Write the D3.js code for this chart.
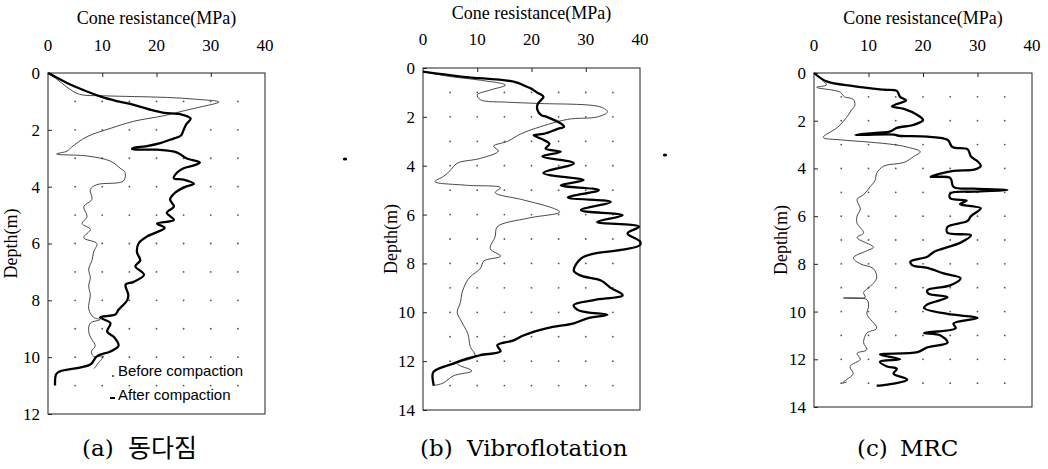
<!DOCTYPE html>
<html>
<head>
<meta charset="utf-8">
<script src="https://cdn.jsdelivr.net/npm/d3@7"></script>
<style>
  body { margin: 0; background: #fff; }
  svg { display: block; }
</style>
</head>
<body>
<svg id="chart" width="1048" height="469"></svg>
<script>
// cone resistance (MPa) vs depth (m)
// each point is [qc, depth]

const xTicks = [0, 10, 20, 30, 40]

const aDepthTicks = [0, 2, 4, 6, 8, 10, 12]
const bDepthTicks = [0, 2, 4, 6, 8, 10, 12, 14]
const cDepthTicks = [0, 2, 4, 6, 8, 10, 12, 14]

const legendLabels = ['Before compaction', 'After compaction']
const captions = ['동다짐', 'Vibroflotation', 'MRC']

const aBefore = [
  [0,0],[1.5,0.2],[3.5,0.5],[5.8,0.75],[10,0.8],[16,0.83],[22,0.86],[27,0.92],[31.5,1.02],
  [28,1.2],[25.7,1.3],[21.4,1.5],[15.8,1.7],[11.5,1.95],[7.2,2.24],[4.4,2.6],[3.5,2.75],
  [1.6,2.85],[7.2,2.92],[11.5,3.1],[13.3,3.35],[14.2,3.5],[13.9,3.8],[9,3.93],[7.8,4.1],
  [8.1,4.45],[6.6,4.7],[7.2,5.05],[6.3,5.3],[7.8,5.5],[6.6,5.8],[9,6.0],[8.4,6.3],[8.1,6.6],
  [7.5,6.9],[7.8,7.2],[7.5,7.5],[7.8,7.8],[7.5,8.3],[8.4,8.6],[9.6,8.68],[7.8,8.8],[7.5,9.1],
  [8.0,9.35],[8.7,9.6],[8.0,9.8],[8.4,9.97],[10.2,9.97],[9.3,10.2],[8.5,10.4]
]
const aAfter = [
  [0,0],[1.5,0.15],[3.5,0.35],[6.5,0.6],[10,0.85],[13,1.0],[15.8,1.12],[19,1.3],[21.4,1.4],
  [24.4,1.45],[26.3,1.6],[25.5,1.8],[25,2.0],[24.5,2.2],[22.5,2.35],[20.7,2.47],[18,2.58],
  [15.8,2.63],[15.5,2.68],[20,2.7],[23.8,2.8],[25.5,3.0],[28,3.15],[26.9,3.25],[25,3.35],
  [23.8,3.5],[23.2,3.7],[25,3.75],[26.9,3.9],[25.4,4.0],[23.5,4.2],[22.5,4.45],[23.2,4.7],
  [21.9,4.92],[23.2,5.17],[20.1,5.3],[21.5,5.45],[18.3,5.75],[16.7,6.0],[16.4,6.3],[17,6.6],
  [16.1,6.8],[17.7,7.1],[15.8,7.35],[14.3,7.45],[14.8,7.8],[14.6,8.0],[13,8.33],[12.4,8.5],
  [9.6,8.6],[11.5,8.8],[10.9,9.1],[12.2,9.3],[13,9.6],[11.5,9.8],[9,9.97],[7.8,10.26],
  [2.2,10.5],[1.5,10.6],[1.3,11.0]
]

const bBefore = [
  [0,0.15],[5,0.35],[10.6,0.5],[15.2,0.7],[12.4,0.9],[10,1.1],[10.6,1.3],[15.6,1.4],[21.1,1.45],
  [32.8,1.6],[34,1.8],[32.2,2.0],[26.7,2.1],[21.7,2.4],[18,2.7],[15.6,3.0],[13,3.2],[13.9,3.4],
  [10.6,3.7],[6.3,3.9],[5,4.2],[3.7,4.45],[2.2,4.65],[8,4.8],[14.3,4.9],[13.3,5.1],[18.5,5.4],
  [24.1,5.75],[25.2,5.9],[19.3,6.15],[13.7,6.5],[13.3,6.9],[12.4,7.4],[14.3,7.7],[11.2,7.9],
  [10.6,8.2],[8.7,8.55],[7.9,8.8],[7.2,9.2],[6.9,9.6],[6.3,10],[6.9,10.3],[8.3,10.9],[8.7,11.4],
  [9.6,11.8],[6.3,12.1],[9,12.4],[5.6,12.6],[3.7,12.9],[1.9,13.0]
]
const bAfter = [
  [0,0.15],[7.4,0.36],[16.7,0.56],[19.2,0.77],[20,0.85],[21,1.0],[22.2,1.18],[21.8,1.3],
  [21.1,1.5],[21.1,1.72],[21.8,1.93],[22.8,2.0],[25.4,2.27],[26,2.4],[24.7,2.5],[22.2,2.7],
  [20.4,2.75],[21.8,2.9],[23.3,3.1],[22.6,3.3],[25.4,3.43],[22,3.62],[27.8,3.9],[22.2,4.3],
  [29.6,4.59],[25.4,4.8],[32.4,5.0],[26.7,5.3],[34.6,5.48],[29.1,5.82],[36.8,6.03],[32.1,6.3],
  [39.8,6.5],[37.7,6.77],[40,7.1],[40,7.25],[36.5,7.45],[31.5,7.6],[29.1,7.8],[27.8,8.3],
  [29.1,8.5],[32.8,8.7],[34.6,9.0],[36.8,9.3],[31.5,9.5],[27.8,9.7],[28.5,9.9],[30.3,10.0],
  [34.0,10.1],[30.3,10.25],[27.8,10.45],[22.9,10.65],[18.5,10.95],[16.7,11.15],[13.7,11.35],
  [14.3,11.6],[10.6,11.75],[8.1,11.9],[5.6,12.1],[1.9,12.45],[1.9,12.9],[2.0,13.0]
]

const cBefore = [
  [0,0],[1.5,0.3],[2.3,0.5],[0.5,0.6],[4.8,0.8],[5.6,1.0],[7.2,1.1],[7.5,1.35],[6.9,1.55],
  [6.3,1.76],[5.6,1.97],[4.2,2.3],[1.7,2.7],[4.8,2.8],[10.3,2.9],[14.6,3.0],[17,3.1],[19.5,3.3],
  [18.3,3.5],[16.5,3.75],[12.8,3.9],[11.5,4.2],[11.2,4.5],[10.3,4.77],[9.1,5.1],[7.9,5.3],
  [8.5,5.7],[7.9,6.0],[7.9,6.3],[9.1,6.7],[7.9,6.9],[10.9,7.3],[9.7,7.45],[7.2,7.75],[8.5,8.0],
  [10.9,8.2],[11.5,8.6],[10.3,8.95],[9.1,9.2],[9.4,9.4],[5.4,9.43],[9.7,9.5],[10,9.8],[9.7,10.1],
  [11.5,10.7],[9.7,10.9],[9.1,11.3],[9.7,11.6],[7.9,11.75],[8.5,12.0],[6.6,12.3],[7.2,12.6],
  [6.0,12.85],[5.2,13.0],[6.0,12.95]
]
const cAfter = [
  [0,0],[2.3,0.35],[7.2,0.55],[12.8,0.7],[15.2,0.75],[15.8,1.0],[16.9,1.15],[15.2,1.3],
  [14.3,1.4],[16.5,1.5],[18.9,1.75],[20,1.97],[18.2,2.18],[15.2,2.3],[14,2.45],[10.9,2.52],
  [7.6,2.6],[14.7,2.58],[15.5,2.63],[20.8,2.67],[24.5,2.8],[25.4,3.1],[28.2,3.2],[28.8,3.5],
  [30,3.7],[30.6,3.9],[29.4,4.05],[25.6,4.1],[21.4,4.35],[25,4.4],[25.6,4.77],[29.4,4.85],
  [35.5,4.9],[29.4,4.97],[25,5.05],[25,5.25],[28,5.35],[26.8,5.5],[30.6,5.67],[28.8,6.0],
  [28.2,6.2],[24.5,6.45],[24.5,6.7],[28.8,6.8],[27,7.1],[22,7.5],[20.8,7.7],[17.7,7.9],
  [18,8.05],[20.8,8.17],[23.8,8.4],[26.9,8.6],[25,8.9],[20.8,9.1],[21,9.25],[24.5,9.4],
  [20.8,9.7],[20.2,9.85],[24.5,10.1],[30,10.27],[25.6,10.5],[26,10.7],[20.2,10.9],[23.2,11.0],
  [24.5,11.3],[20.8,11.5],[19,11.7],[12.1,11.8],[15.8,12.0],[12.1,12.1],[13.4,12.3],
  [15.2,12.4],[14.6,12.6],[17.1,12.85],[12.1,13.1],[11.5,13.1]
]

const SERIF = '"Liberation Serif", "Times New Roman", serif'
const CAPSERIF = '"DejaVu Serif", serif'
const SANS = '"Liberation Sans", Arial, sans-serif'
const KOREAN = '"Noto Sans CJK KR", sans-serif'

const svg = d3.select('#chart')

// one panel = box + dot grid + two profiles
const panels = [
  { left: 48, right: 265, top: 73, bottom: 414, maxDepth: 12, depthTicks: aDepthTicks,
    titleY: 20, tickY: 47, labelX: 13, letterX: 82, capX: 128, letter: '(a)', caption: captions[0],
    before: aBefore, after: aAfter, legend: true },
  { left: 423, right: 640, top: 68, bottom: 410, maxDepth: 14, depthTicks: bDepthTicks,
    titleY: 15, tickY: 41, labelX: 393, letterX: 420, capX: 467, letter: '(b)', caption: captions[1],
    before: bBefore, after: bAfter },
  { left: 814, right: 1032, top: 73, bottom: 407, maxDepth: 14, depthTicks: cDepthTicks,
    titleY: 20, tickY: 47, labelX: 783, letterX: 857, capX: 900, letter: '(c)', caption: captions[2],
    before: cBefore, after: cAfter }
]

panels.forEach(p => {
  const x = d3.scaleLinear().domain([0, 40]).range([p.left, p.right])
  const y = d3.scaleLinear().domain([0, p.maxDepth]).range([p.top, p.bottom])
  const g = svg.append('g')

  // dot grid, every 5 MPa and 1 m
  const dots = []
  for (let q = 5; q < 40; q += 5) {
    for (let d = 1; d < p.maxDepth; d++) dots.push([q, d])
  }
  g.append('g')
    .selectAll('circle')
    .data(dots)
    .join('circle')
      .attr('cx', d => x(d[0]))
      .attr('cy', d => y(d[1]))
      .attr('r', 0.9)
      .attr('fill', '#555')

  // box
  g.append('rect')
    .attr('x', p.left)
    .attr('y', p.top)
    .attr('width', p.right - p.left)
    .attr('height', p.bottom - p.top)
    .attr('fill', 'none')
    .attr('stroke', '#222')
    .attr('stroke-width', 1)

  // top axis (ticks inward)
  const top = g.append('g')
    .attr('transform', `translate(0,${p.top})`)
    .call(d3.axisTop(x).tickValues(xTicks.slice(1, -1)).tickSize(-4).tickFormat(''))
  top.select('.domain').remove()
  top.selectAll('line').attr('stroke', '#222')

  g.append('g')
    .selectAll('text')
    .data(xTicks)
    .join('text')
      .attr('x', d => x(d))
      .attr('y', p.tickY)
      .attr('text-anchor', 'middle')
      .attr('dominant-baseline', 'middle')
      .style('font-family', SERIF)
      .attr('font-size', 17)
      .text(d => d)

  g.append('text')
    .attr('x', (p.left + p.right) / 2)
    .attr('y', p.titleY)
    .attr('text-anchor', 'middle')
    .attr('dominant-baseline', 'middle')
    .style('font-family', SERIF)
    .attr('font-size', 18)
    .text('Cone resistance(MPa)')

  // left axis
  const left = g.append('g')
    .attr('transform', `translate(${p.left},0)`)
    .call(d3.axisLeft(y).tickValues(p.depthTicks).tickSize(-4).tickPadding(8))
  left.select('.domain').remove()
  left.selectAll('line').attr('stroke', '#222')
  left.selectAll('text')
    .style('font-family', SERIF)
    .attr('font-size', 17)
    .attr('fill', '#000')

  g.append('text')
    .attr('transform', `translate(${p.labelX},${(p.top + p.bottom) / 2}) rotate(-90)`)
    .attr('text-anchor', 'middle')
    .attr('dominant-baseline', 'middle')
    .style('font-family', SERIF)
    .attr('font-size', 18)
    .text('Depth(m)')

  // profiles
  const line = d3.line()
    .x(d => x(d[0]))
    .y(d => y(d[1]))
    .curve(d3.curveCatmullRom.alpha(0.5))

  g.append('path')
    .datum(p.before)
    .attr('d', line)
    .attr('fill', 'none')
    .attr('stroke', '#333')
    .attr('stroke-width', 0.9)

  g.append('path')
    .datum(p.after)
    .attr('d', line)
    .attr('fill', 'none')
    .attr('stroke', '#000')
    .attr('stroke-width', 2.3)
    .attr('stroke-linejoin', 'round')

  if (p.legend) {
    const lg = g.append('g')
    lg.selectAll('text')
      .data(legendLabels)
      .join('text')
        .attr('x', 118)
        .attr('y', (d, i) => 372 + i * 24)
        .attr('dominant-baseline', 'middle')
        .style('font-family', SANS)
        .attr('font-size', 15)
        .text(d => d)
    lg.append('circle').attr('cx', 113).attr('cy', 376).attr('r', 1).attr('fill', '#333')
    lg.append('line')
      .attr('x1', 110).attr('x2', 115).attr('y1', 398).attr('y2', 398)
      .attr('stroke', '#000').attr('stroke-width', 2)
  }

  // caption
  g.append('text')
    .attr('x', p.letterX)
    .attr('y', 450)
    .attr('dominant-baseline', 'middle')
    .style('font-family', CAPSERIF)
    .attr('font-size', 23)
    .text(p.letter)
  const korean = /[가-힣]/.test(p.caption)
  g.append('text')
    .attr('x', p.capX)
    .attr('y', 450)
    .attr('dominant-baseline', 'middle')
    .style('font-family', korean ? KOREAN : CAPSERIF)
    .attr('font-size', korean ? 25 : 23)
    .text(p.caption)
})

// two specks of the scan between panels
svg.append('g')
  .selectAll('ellipse')
  .data([[345, 159], [665, 155]])
  .join('ellipse')
    .attr('cx', d => d[0])
    .attr('cy', d => d[1])
    .attr('rx', 2.2)
    .attr('ry', 1.5)
    .attr('fill', '#000')
</script>
</body>
</html>
